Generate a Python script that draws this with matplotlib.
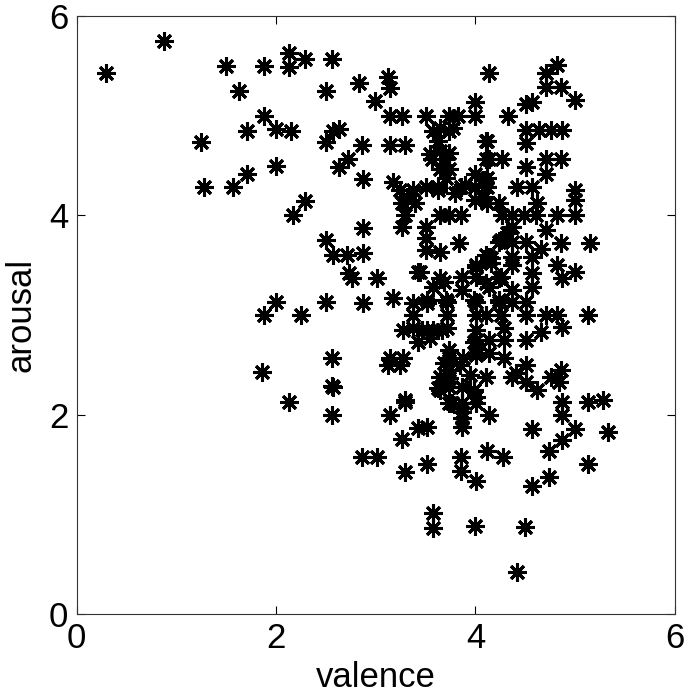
import matplotlib
matplotlib.use("Agg")
from matplotlib import pyplot as plt
import numpy as np

# valence / arousal points
valence = [
    0.29, 0.88, 1.50, 1.88, 2.13, 2.13, 2.29, 2.56, 1.63, 2.50, 1.88, 1.71, 2.00, 2.15,
    1.25, 2.50, 2.00, 1.71, 1.28, 1.57, 2.29, 2.17, 2.50,
    2.00, 1.88, 2.25, 2.50, 2.56, 1.86, 2.56, 2.13, 2.56,
    2.83, 3.12, 3.14, 2.99, 3.14, 3.26, 3.50, 3.74, 3.83, 4.00, 4.00,
    3.57, 3.64, 3.74, 3.78, 2.63, 2.57, 3.62, 2.86, 3.14, 3.29, 4.11,
    3.64, 3.56, 3.69, 3.74, 2.72, 2.63, 3.64, 3.74, 3.71, 4.11, 2.87, 3.17,
    3.24, 3.37, 3.31, 3.26, 3.39, 3.29, 3.26, 3.62, 3.86, 4.00, 4.00, 4.00, 4.09, 4.09,
    3.64, 3.74, 3.86, 2.87, 3.50, 3.50, 3.50, 3.64, 3.84, 2.57, 2.71, 2.87, 4.11,
    3.50, 3.54, 3.62, 3.80, 3.90,
    2.73, 2.76, 3.01, 3.42, 3.57, 3.64, 3.69, 3.87, 3.87, 4.01, 4.01, 4.11,
    2.87, 3.17, 3.37, 3.51, 3.37, 3.37, 3.27, 3.51, 3.42, 3.57, 3.67,
    3.72, 3.72, 3.72, 4.01, 4.01, 4.01, 4.01, 4.01,
    3.14, 3.27, 3.12, 3.24, 3.74, 3.74, 3.74, 3.69,
    3.64, 3.74, 3.74, 3.87, 4.01, 3.87, 3.74, 3.64, 2.57, 3.29, 4.11,
    3.46, 3.54, 3.99, 4.01, 3.88, 3.95, 3.62, 3.85, 3.99,
    4.26, 4.16, 4.16, 4.01, 3.44, 3.51, 3.71, 3.99, 4.24, 4.14, 4.26,
    4.14, 4.71, 4.82, 4.71, 4.86, 5.00, 4.51, 4.57, 4.33,
    4.51, 4.64, 4.76, 4.87, 4.51, 4.12,
    4.14, 4.27, 4.51, 4.71, 4.86, 4.71,
    4.12, 4.12, 4.07, 4.12, 4.24, 4.42, 4.57, 4.62,
    5.00, 5.00, 5.00, 4.27, 4.37, 4.49, 4.61, 4.82,
    4.37, 4.32, 4.71, 4.24, 4.37, 4.51, 4.66, 4.86, 5.15,
    4.14, 4.37, 4.57,
    4.37, 4.57, 4.57, 4.82, 4.87, 5.00, 4.24, 4.37,
    4.24, 4.37, 4.51, 4.11, 4.26, 4.51, 4.71, 4.82, 5.13,
    4.66, 4.87, 4.29,
    4.14, 4.29, 4.51, 4.14, 4.29,
    4.51, 4.41, 4.37, 4.86, 4.76, 4.84, 4.51, 4.62,
    4.87, 5.13, 5.28,
    4.87, 4.14, 4.57, 5.00, 5.33, 4.87, 4.74, 4.12, 4.28, 5.13, 4.74, 4.57, 4.50, 4.42,
    3.29, 3.14, 3.77, 3.87, 4.01, 3.87, 3.87, 3.87, 3.42, 3.51, 3.26,
    2.86, 3.01, 3.29, 3.51, 3.86, 3.86, 4.01, 3.57, 3.57, 4.00,
]
arousal = [
    5.43, 5.75, 5.50, 5.50, 5.63, 5.49, 5.57, 5.57, 5.25, 5.25, 5.00, 4.85, 4.87, 4.85,
    4.74, 4.74, 4.50, 4.42, 4.28, 4.28, 4.14, 4.00, 3.75,
    3.13, 3.00, 3.00, 3.13, 2.57, 2.43, 2.29, 2.13, 2.00,
    5.33, 5.39, 5.28, 5.15, 5.00, 5.00, 5.00, 5.00, 5.00, 5.00, 5.14,
    4.85, 4.88, 4.85, 4.88, 4.87, 4.85, 4.75, 4.71, 4.71, 4.71, 4.75,
    4.65, 4.57, 4.57, 4.63, 4.57, 4.49, 4.47, 4.47, 4.38, 4.57, 4.37, 4.33,
    4.25, 4.25, 4.18, 4.12, 4.12, 4.00, 3.88, 4.25, 4.28, 4.42, 4.28, 4.15, 4.35, 4.18,
    4.00, 4.00, 4.00, 3.87, 3.88, 3.77, 3.65, 3.63, 3.72, 3.60, 3.60, 3.62, 3.60,
    4.28, 4.62, 4.28, 4.22, 4.30,
    3.42, 3.37, 3.37, 3.43, 3.28, 3.37, 3.33, 3.38, 3.25, 3.48, 3.38, 3.32,
    3.12, 3.17, 3.12, 3.12, 3.00, 2.87, 2.85, 2.85, 2.73, 2.85, 2.85,
    3.13, 3.00, 2.87, 3.13, 3.00, 2.85, 2.75, 2.62,
    2.57, 2.57, 2.50, 2.50, 2.65, 2.57, 2.45, 2.52,
    2.38, 2.37, 2.28, 2.28, 2.18, 2.12, 2.12, 2.25, 2.28, 2.15, 2.38,
    2.85, 2.77, 2.73, 2.60, 2.57, 2.40, 2.27, 2.50, 2.25,
    3.75, 3.57, 3.52, 3.50, 3.43, 3.15, 3.15, 3.15, 3.15, 3.28, 3.38,
    5.43, 5.43, 5.51, 5.29, 5.29, 5.16, 5.12, 5.14, 5.00,
    4.86, 4.86, 4.86, 4.86, 4.73, 4.75,
    4.57, 4.57, 4.49, 4.57, 4.57, 4.42,
    4.38, 4.28, 4.18, 4.12, 4.12, 4.28, 4.28, 4.12,
    4.25, 4.15, 4.00, 4.00, 4.00, 4.00, 4.00, 4.00,
    3.88, 3.82, 3.85, 3.73, 3.73, 3.73, 3.66, 3.72, 3.72,
    3.58, 3.58, 3.58,
    3.50, 3.42, 3.28, 3.50, 3.37, 3.43, 3.37, 3.25,
    3.13, 3.13, 3.13, 3.00, 3.00, 3.00, 3.00, 3.00, 3.00,
    2.83, 2.88, 2.87,
    2.75, 2.75, 2.75, 2.62, 2.57,
    2.50, 2.42, 2.38, 2.45, 2.38, 2.33, 2.33, 2.25,
    2.13, 2.13, 2.15,
    2.00, 2.00, 1.86, 1.86, 1.83, 1.75, 1.63, 1.63, 1.57, 1.50, 1.37, 1.28, 0.87, 0.42,
    2.13, 2.00, 2.12, 2.12, 2.12, 2.03, 1.97, 1.88, 1.87, 1.88, 1.76,
    1.57, 1.57, 1.42, 1.50, 1.57, 1.43, 1.33, 1.01, 0.86, 0.88,
]

ticks = [0, 2, 4, 6]

plt.rcParams['font.family'] = ['Liberation Sans', 'DejaVu Sans']

fig = plt.figure(figsize=(6.85, 7.0), dpi=100)
ax = fig.add_axes([0.112, 0.123, 0.873, 0.854])

# MATLAB style asterisk: 8 arms
ax.plot(valence, arousal, linestyle='none', marker=(8, 2, 0),
        markersize=13, markeredgewidth=2.2, color='black')

ax.set_xlim(0, 6)
ax.set_ylim(0, 6)
ax.set_xticks(ticks)
ax.set_yticks(ticks)
ax.tick_params(direction='in', length=6, width=0.8, top=True, right=True,
               labelsize=25, pad=6)
for s in ax.spines.values():
    s.set_linewidth(0.8)
    s.set_color('#333333')

ax.set_xlabel("valence", fontsize=25, labelpad=4)
ax.set_ylabel("arousal", fontsize=25, labelpad=8)

fig.savefig("out.png", dpi=100)
